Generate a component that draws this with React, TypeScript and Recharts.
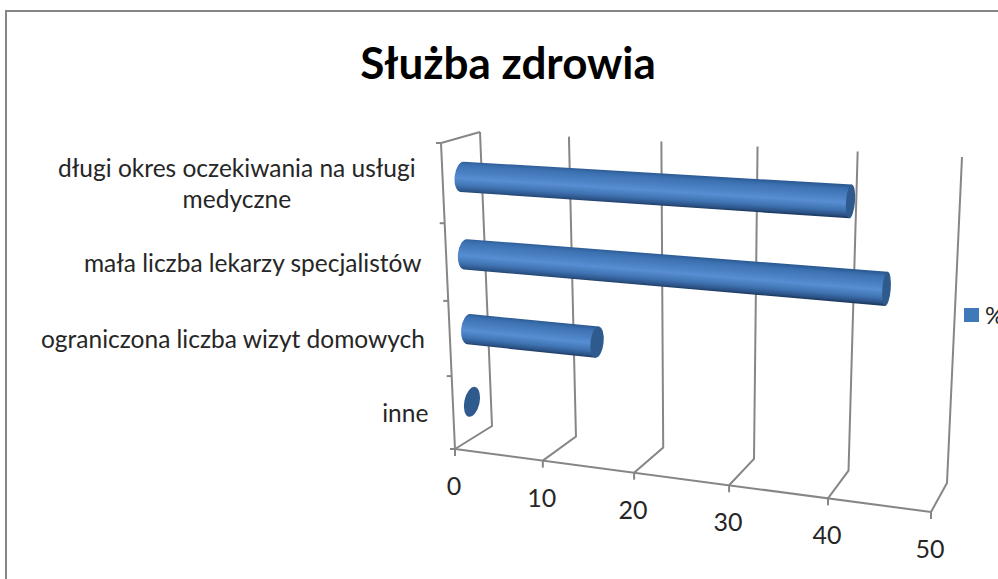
import React from "react";
import { BarChart, Bar, XAxis, YAxis, Legend, CartesianGrid } from "recharts";

const categories = [
	"długi okres oczekiwania na usługi medyczne",
	"mała liczba lekarzy specjalistów",
	"ograniczona liczba wizyt domowych",
	"inne",
];
const percentValues = [40.5, 44.2, 14.5, 0];
const valueTicks = [0, 10, 20, 30, 40, 50];

const chartData = categories.map((name, i) => ({ name, value: percentValues[i] }));

// plot rectangle that recharts lays out, the 3D look is projected from it
const PLOT = { left: 455, right: 931, top: 143, bottom: 449 };

type Pt = [number, number];
const BACK = { tl: [480, 132] as Pt, tr: [962, 157] as Pt, bl: [492, 426] as Pt, br: [947, 483] as Pt };
const FRONT = { tl: [441, 143] as Pt, tr: [944, 171] as Pt, bl: [455, 449] as Pt, br: [931, 512] as Pt };

const GRID = "#868686";
const TEXT = "#262626";
const FONT = "Lato, sans-serif";

const mix = (a: Pt, b: Pt, t: number): Pt => [a[0] + (b[0] - a[0]) * t, a[1] + (b[1] - a[1]) * t];
const warp = (t: number, a: number) => (a * t) / (1 + (a - 1) * t);
const warpU = (u: number) => warp(u, 0.905);
const warpV = (v: number) => warp(v, 1.066);

// u along the value axis, v down the wall, d from back wall (0) to front (1)
function project(u: number, v: number, d: number): Pt {
	const fu = warpU(u);
	const fv = warpV(v);
	const back = mix(mix(BACK.tl, BACK.tr, fu), mix(BACK.bl, BACK.br, fu), fv);
	const front = mix(mix(FRONT.tl, FRONT.tr, fu), mix(FRONT.bl, FRONT.br, fu), fv);
	return mix(back, front, d);
}

const toU = (x: number) => (x - PLOT.left) / (PLOT.right - PLOT.left);
const toV = (y: number) => (y - PLOT.top) / (PLOT.bottom - PLOT.top);
const line = (pts: Pt[]) => pts.map((p, i) => `${i ? "L" : "M"}${p[0]} ${p[1]}`).join(" ");

// grid goes up the back wall and out across the floor, behind the bars
function WallLine(props: any) {
	const u = toU(props.x1);
	return (
		<path
			key={props.key}
			d={line([project(u, 0, 0), project(u, 1, 0), project(u, 1, 1)])}
			fill="none"
			stroke={GRID}
			strokeWidth={2}
		/>
	);
}

function ValueTick(props: any) {
	const { x, payload } = props;
	const u = toU(x);
	const foot = project(u, 1, 1);
	const isFirst = payload.value === valueTicks[0];
	return (
		<g>
			<path d={line([foot, [foot[0], foot[1] + 7]])} fill="none" stroke={GRID} strokeWidth={2} />
			{isFirst && (
				<path
					d={line([project(0, 1, 1), project(1, 1, 1)])}
					fill="none"
					stroke={GRID}
					strokeWidth={2}
				/>
			)}
			<text
				x={foot[0] - 1}
				y={foot[1] + 36}
				textAnchor="middle"
				dominantBaseline="central"
				fontFamily={FONT}
				fontSize={25}
				fill={TEXT}
			>
				{payload.value}
			</text>
		</g>
	);
}

function CategoryTick(props: any) {
	const { y, index, payload } = props;
	const v = toV(y);
	const band = 1 / categories.length;
	const top = v - band / 2;
	const bottom = v + band / 2;
	const anchor = project(0, v, 1);
	const mark = (t: number) => {
		const p = project(0, t, 1);
		return line([p, [p[0] - 5, p[1]]]);
	};

	// long label wraps after the last word that fits
	const words: string[] = String(payload.value).split(" ");
	const rows: string[] = [];
	words.forEach((w) => {
		const last = rows[rows.length - 1];
		if (last !== undefined && (last + " " + w).length <= 33) rows[rows.length - 1] = last + " " + w;
		else rows.push(w);
	});
	const multi = rows.length > 1;
	const textX = multi ? anchor[0] - 206 : anchor[0] - 25;

	return (
		<g>
			{index === 0 && (
				<path
					d={line([project(0, 0, 0), project(0, 0, 1), project(0, 1, 1)])}
					fill="none"
					stroke={GRID}
					strokeWidth={2}
				/>
			)}
			<path d={mark(top)} fill="none" stroke={GRID} strokeWidth={2} />
			{index === categories.length - 1 && (
				<path d={mark(bottom)} fill="none" stroke={GRID} strokeWidth={2} />
			)}
			<text
				x={textX}
				y={anchor[1]}
				textAnchor={multi ? "middle" : "end"}
				fontFamily={FONT}
				fontSize={24.5}
				fill={TEXT}
			>
				{rows.map((r, i) => (
					<tspan
						key={r}
						x={textX}
						y={anchor[1] + (i - (rows.length - 1) / 2) * 31}
						dominantBaseline="central"
					>
						{r}
					</tspan>
				))}
			</text>
		</g>
	);
}

function Cylinder(props: any) {
	const { x, y, width, height, index } = props;
	const v = toV(y + height / 2);
	const u = toU(x + width);
	const fu = warpU(u);
	const start = project(0, v, 0.5);
	const end = project(u, v, 0.5);

	const capAt = (center: Pt, f: number, angle: number) => {
		const ry = 15.2 + 2.2 * f;
		const rx = 7.6 - 3.9 * f;
		const rad = (angle * Math.PI) / 180;
		const up: Pt = [Math.sin(rad) * ry, -Math.cos(rad) * ry];
		return {
			ry,
			rx,
			angle,
			top: [center[0] + up[0], center[1] + up[1]] as Pt,
			bottom: [center[0] - up[0], center[1] - up[1]] as Pt,
		};
	};
	const a = capAt(start, 0, 6);
	// an empty bar is only its end cap, which leans more at the wall
	const b = capAt(end, fu, width > 0 ? 7 - 3 * fu : 12);
	const gid = `cyl-${index}`;

	// shading runs across the tube, square to its axis
	const dx = end[0] - start[0];
	const dy = end[1] - start[1];
	const len = Math.hypot(dx, dy) || 1;
	const half = (a.ry + b.ry) / 2;
	const c = mix(start, end, 0.5);
	const g1: Pt = [c[0] + (dy / len) * half, c[1] - (dx / len) * half];
	const g2: Pt = [c[0] - (dy / len) * half, c[1] + (dx / len) * half];

	return (
		<g>
			{width > 0 && (
				<>
					<defs>
						<linearGradient
							id={gid}
							gradientUnits="userSpaceOnUse"
							x1={g1[0]}
							y1={g1[1]}
							x2={g2[0]}
							y2={g2[1]}
						>
							<stop offset="0" stopColor="#2c5a93" />
							<stop offset="0.12" stopColor="#3b70b0" />
							<stop offset="0.55" stopColor="#578ed2" />
							<stop offset="0.78" stopColor="#3f73b2" />
							<stop offset="0.94" stopColor="#2b5286" />
							<stop offset="1" stopColor="#1f3c63" />
						</linearGradient>
					</defs>
					<path
						d={`M${a.top[0]} ${a.top[1]} L${b.top[0]} ${b.top[1]} L${b.bottom[0]} ${b.bottom[1]} L${a.bottom[0]} ${a.bottom[1]} A${a.rx} ${a.ry} ${a.angle} 0 1 ${a.top[0]} ${a.top[1]} Z`}
						fill={`url(#${gid})`}
					/>
				</>
			)}
			<ellipse
				cx={end[0]}
				cy={end[1]}
				rx={b.rx}
				ry={b.ry}
				transform={`rotate(${b.angle} ${end[0]} ${end[1]})`}
				fill="#2f5a8e"
			/>
		</g>
	);
}

function LegendBox() {
	return (
		<div style={{ display: "flex", alignItems: "center", fontFamily: FONT, fontSize: 24, color: TEXT }}>
			<span style={{ width: 15, height: 14, background: "#4079ba", marginRight: 6 }} />
			<span>%</span>
		</div>
	);
}

export default function App() {
	return (
		<div
			style={{
				position: "absolute",
				left: 0,
				top: 0,
				width: 998,
				height: 579,
				overflow: "hidden",
				background: "#fff",
			}}
		>
			<div
				style={{
					position: "absolute",
					left: 5,
					top: 10,
					width: 1100,
					height: 700,
					border: "2px solid #868686",
				}}
			/>
			<div
				style={{
					position: "absolute",
					left: 0,
					top: 36,
					width: 1016,
					textAlign: "center",
					fontFamily: FONT,
					fontWeight: 700,
					fontSize: 44,
					lineHeight: "52px",
					color: "#000",
				}}
			>
				Służba zdrowia
			</div>
			<BarChart
				width={998}
				height={579}
				data={chartData}
				layout="vertical"
				margin={{ top: PLOT.top, left: PLOT.left - 100, right: 998 - PLOT.right, bottom: 579 - PLOT.bottom - 30 }}
				style={{ position: "absolute", left: 0, top: 0 }}
			>
				<CartesianGrid horizontal={false} vertical={WallLine} verticalValues={valueTicks} />
				<XAxis
					type="number"
					domain={[0, 50]}
					ticks={valueTicks}
					height={30}
					axisLine={false}
					tickLine={false}
					interval={0}
					tick={ValueTick}
				/>
				<YAxis
					type="category"
					dataKey="name"
					width={100}
					axisLine={false}
					tickLine={false}
					interval={0}
					tick={CategoryTick}
				/>
				<Legend
					layout="horizontal"
					verticalAlign="middle"
					align="center"
					content={LegendBox}
					wrapperStyle={{ left: 964, top: 300, width: 60, right: "auto", bottom: "auto" }}
				/>
				<Bar dataKey="value" name="%" barSize={30} isAnimationActive={false} shape={Cylinder} />
			</BarChart>
		</div>
	);
}
